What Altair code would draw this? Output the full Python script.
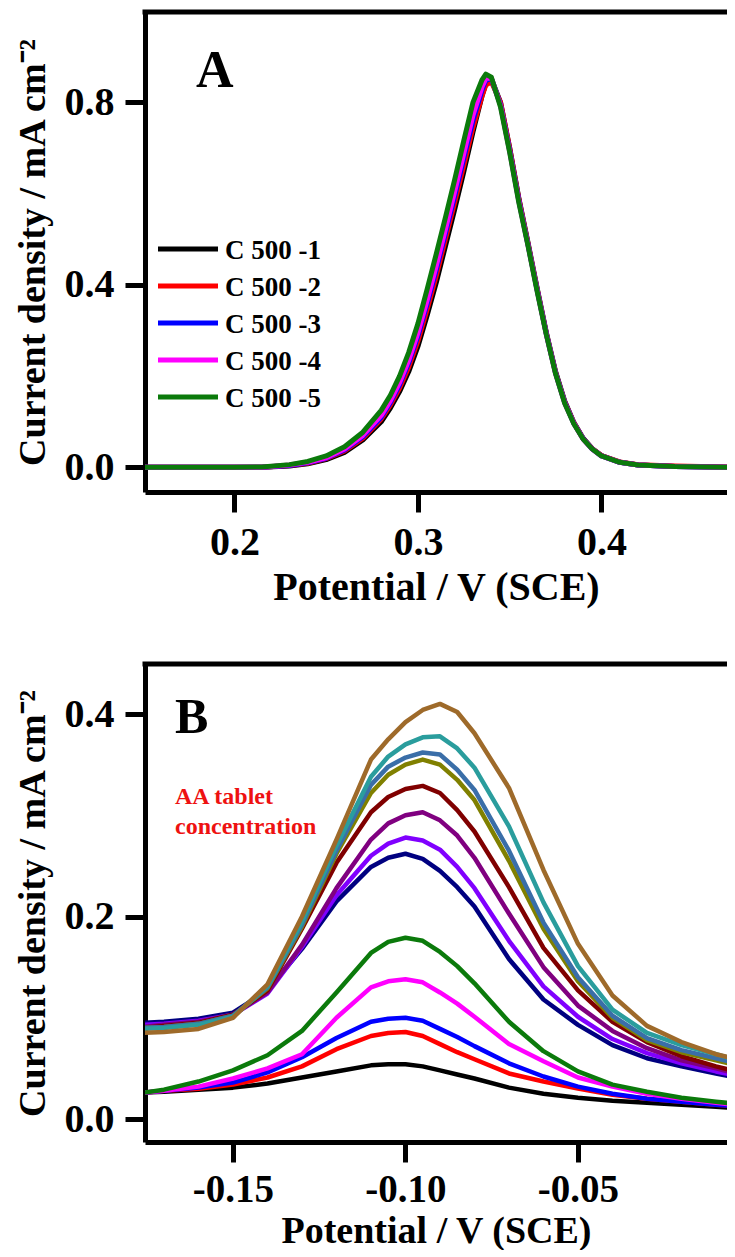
import altair as alt
import pandas as pd

FONT = "Liberation Serif"

# ---------------- Panel A data ----------------
x_A = [0.150, 0.200, 0.215, 0.230, 0.240, 0.250, 0.260, 0.270, 0.280, 0.285,
       0.290, 0.295, 0.300, 0.305, 0.310, 0.315, 0.320, 0.325, 0.330, 0.335,
       0.337, 0.340, 0.345, 0.350, 0.355, 0.360, 0.365, 0.370, 0.375, 0.380,
       0.385, 0.390, 0.395, 0.400, 0.410, 0.420, 0.440, 0.475]

names_A = ["C 500 -1", "C 500 -2", "C 500 -3", "C 500 -4", "C 500 -5"]
colors_A = ["#000000", "#ff0000", "#0000ff", "#ff00ff", "#0b7a0b"]

y_A1 = [0, 0, 0, 0.003, 0.008, 0.017, 0.033, 0.060, 0.100, 0.130,
        0.166, 0.210, 0.265, 0.333, 0.405, 0.485, 0.565, 0.648, 0.735, 0.815,
        0.840, 0.852, 0.800, 0.700, 0.590, 0.492, 0.392, 0.295, 0.210, 0.145,
        0.098, 0.064, 0.041, 0.026, 0.011, 0.005, 0.002, 0]
y_A2 = [0, 0, 0, 0.004, 0.009, 0.019, 0.036, 0.064, 0.106, 0.137,
        0.174, 0.220, 0.277, 0.346, 0.420, 0.500, 0.580, 0.662, 0.745, 0.815,
        0.838, 0.845, 0.800, 0.700, 0.588, 0.490, 0.390, 0.293, 0.208, 0.143,
        0.097, 0.063, 0.041, 0.026, 0.012, 0.006, 0.003, 0]
y_A3 = [0, 0, 0, 0.004, 0.010, 0.020, 0.038, 0.067, 0.110, 0.142,
        0.181, 0.229, 0.288, 0.358, 0.433, 0.513, 0.594, 0.677, 0.760, 0.828,
        0.848, 0.852, 0.795, 0.695, 0.585, 0.488, 0.388, 0.292, 0.207, 0.142,
        0.096, 0.063, 0.040, 0.025, 0.011, 0.005, 0.002, 0]
y_A4 = [0, 0, 0, 0.005, 0.011, 0.021, 0.040, 0.070, 0.114, 0.146,
        0.186, 0.235, 0.295, 0.366, 0.442, 0.522, 0.604, 0.688, 0.772, 0.835,
        0.852, 0.854, 0.793, 0.692, 0.583, 0.487, 0.387, 0.291, 0.206, 0.141,
        0.096, 0.062, 0.040, 0.025, 0.011, 0.005, 0.002, 0]
y_A5 = [0, 0, 0.001, 0.006, 0.013, 0.025, 0.045, 0.077, 0.125, 0.158,
        0.200, 0.252, 0.315, 0.390, 0.468, 0.548, 0.630, 0.716, 0.800, 0.850,
        0.862, 0.855, 0.790, 0.690, 0.580, 0.485, 0.385, 0.290, 0.205, 0.140,
        0.095, 0.062, 0.040, 0.025, 0.011, 0.005, 0.002, 0]

# ---------------- Panel B data ----------------
x_B = [-0.176, -0.170, -0.160, -0.150, -0.140, -0.130, -0.120, -0.110, -0.105, -0.100,
       -0.095, -0.090, -0.085, -0.080, -0.070, -0.060, -0.050, -0.040, -0.030, -0.020,
       -0.010, -0.004]

names_B = ["AA 1", "AA 2", "AA 3", "AA 4", "AA 5", "AA 6", "AA 7",
           "AA 8", "AA 9", "AA 10", "AA 11", "AA 12", "AA 13"]
colors_B = ["#000000", "#ff0000", "#0000ff", "#ff00ff", "#0b7a0b", "#000080", "#8000ff",
            "#800080", "#800000", "#808000", "#3a6ea8", "#2a9d9d", "#9e6a2a"]

y_B1 = [0.026, 0.027, 0.029, 0.031, 0.035, 0.041, 0.047, 0.053, 0.054, 0.054,
        0.052, 0.048, 0.044, 0.040, 0.031, 0.025, 0.021, 0.018, 0.016, 0.014, 0.012, 0.011]
y_B2 = [0.026, 0.028, 0.030, 0.034, 0.041, 0.052, 0.069, 0.082, 0.085, 0.086,
        0.082, 0.074, 0.066, 0.059, 0.045, 0.037, 0.030, 0.024, 0.020, 0.017, 0.014, 0.013]
y_B3 = [0.026, 0.028, 0.031, 0.036, 0.046, 0.061, 0.080, 0.096, 0.099, 0.100,
        0.097, 0.089, 0.081, 0.072, 0.055, 0.042, 0.032, 0.025, 0.020, 0.017, 0.014, 0.013]
y_B4 = [0.026, 0.028, 0.032, 0.040, 0.050, 0.064, 0.100, 0.130, 0.136, 0.138,
        0.135, 0.125, 0.114, 0.101, 0.074, 0.057, 0.041, 0.032, 0.025, 0.020, 0.016, 0.014]
y_B5 = [0.026, 0.029, 0.037, 0.048, 0.063, 0.087, 0.125, 0.164, 0.175, 0.179,
        0.176, 0.165, 0.151, 0.134, 0.096, 0.067, 0.047, 0.034, 0.027, 0.021, 0.017, 0.015]
y_B6 = [0.095, 0.096, 0.099, 0.105, 0.127, 0.168, 0.215, 0.249, 0.258, 0.262,
        0.257, 0.245, 0.229, 0.210, 0.158, 0.118, 0.093, 0.073, 0.060, 0.052, 0.045, 0.041]
y_B7 = [0.093, 0.094, 0.097, 0.103, 0.124, 0.170, 0.221, 0.260, 0.272, 0.278,
        0.275, 0.266, 0.249, 0.228, 0.176, 0.131, 0.101, 0.079, 0.065, 0.055, 0.047, 0.043]
y_B8 = [0.091, 0.093, 0.096, 0.103, 0.125, 0.172, 0.228, 0.276, 0.292, 0.300,
        0.303, 0.295, 0.280, 0.258, 0.203, 0.150, 0.112, 0.087, 0.070, 0.058, 0.050, 0.045]
y_B9 = [0.090, 0.092, 0.095, 0.103, 0.127, 0.188, 0.253, 0.303, 0.318, 0.326,
        0.329, 0.322, 0.305, 0.284, 0.229, 0.169, 0.127, 0.096, 0.076, 0.062, 0.052, 0.047]
y_B10 = [0.090, 0.091, 0.094, 0.102, 0.129, 0.190, 0.262, 0.322, 0.340, 0.350,
         0.355, 0.350, 0.335, 0.315, 0.255, 0.188, 0.136, 0.100, 0.078, 0.066, 0.058, 0.053]
y_B11 = [0.090, 0.091, 0.094, 0.102, 0.130, 0.192, 0.265, 0.330, 0.348, 0.357,
         0.362, 0.360, 0.345, 0.325, 0.265, 0.194, 0.140, 0.102, 0.080, 0.068, 0.060, 0.055]
y_B12 = [0.089, 0.090, 0.093, 0.101, 0.131, 0.195, 0.270, 0.338, 0.358, 0.370,
         0.377, 0.378, 0.366, 0.347, 0.289, 0.214, 0.151, 0.108, 0.085, 0.073, 0.064, 0.058]
y_B13 = [0.085, 0.086, 0.089, 0.100, 0.133, 0.200, 0.276, 0.355, 0.375, 0.392,
         0.404, 0.410, 0.402, 0.381, 0.327, 0.246, 0.173, 0.122, 0.092, 0.076, 0.064, 0.059]

# tick values / labels
xticks_A = [0.2, 0.3, 0.4]
yticks_A = [0.0, 0.4, 0.8]
xticks_B = [-0.15, -0.10, -0.05]
yticks_B = [0.0, 0.2, 0.4]
x_title = "Potential / V (SCE)"
y_title = "Current density / mA cm\u207b\u00b2"


def long_frame(xs, names, series):
    rows = []
    for order, (nm, ys) in enumerate(zip(names, series)):
        for x, y in zip(xs, ys):
            rows.append({"series": nm, "ord": order, "potential": x, "current": y})
    return pd.DataFrame(rows)


dfA = long_frame(x_A, names_A, [y_A1, y_A2, y_A3, y_A4, y_A5])
dfB = long_frame(x_B, names_B, [y_B1, y_B2, y_B3, y_B4, y_B5, y_B6, y_B7,
                                y_B8, y_B9, y_B10, y_B11, y_B12, y_B13])

W = 582
HA = 480
HB = 478
MINUS_FIX = "replace(datum.label, '\u2212', '-')"

colorA = alt.Scale(domain=names_A, range=colors_A)
colorB = alt.Scale(domain=names_B, range=colors_B)


def top_border(w):
    return alt.Chart(pd.DataFrame({"k": [0]})).mark_rule(
        color="black", strokeWidth=5).encode(
        x=alt.value(-2.5), x2=alt.value(w), y=alt.value(0))


# ---------- Panel A ----------
linesA = alt.Chart(dfA).mark_line(strokeWidth=5, clip=True, strokeJoin="round").encode(
    x=alt.X("potential:Q",
            scale=alt.Scale(domain=[0.1513, 0.4684], nice=False, zero=False),
            axis=alt.Axis(values=xticks_A, format=".1f", title=x_title,
                          labelPadding=10, titlePadding=5)),
    y=alt.Y("current:Q",
            scale=alt.Scale(domain=[-0.054, 0.998], nice=False, zero=False),
            axis=alt.Axis(values=yticks_A, format=".1f", title=y_title,
                          labelPadding=11, titlePadding=12)),
    color=alt.Color("series:N", scale=colorA, legend=None),
    detail="ord:O",
)

legA_df = pd.DataFrame({"series": names_A})
leg_y = alt.Y("series:N", scale=alt.Scale(type="point", domain=names_A,
                                          range=[237, 385], padding=0), axis=None)
leg_rules = alt.Chart(legA_df).mark_rule(strokeWidth=5).encode(
    x=alt.value(13), x2=alt.value(73), y=leg_y,
    color=alt.Color("series:N", scale=colorA, legend=None))
leg_text = alt.Chart(legA_df).mark_text(
    align="left", baseline="alphabetic", dy=10, font=FONT, fontWeight="bold",
    fontSize=27, color="black").encode(x=alt.value(80), y=leg_y, text="series:N")

labelA = alt.Chart(pd.DataFrame({"t": ["A"]})).mark_text(
    align="left", baseline="alphabetic", font=FONT, fontWeight="bold",
    fontSize=52, color="black").encode(x=alt.value(51), y=alt.value(75), text="t:N")

panelA = alt.layer(linesA, top_border(W), leg_rules, leg_text, labelA).resolve_scale(
    y="independent").properties(width=W, height=HA)

# ---------- Panel B ----------
linesB = alt.Chart(dfB).mark_line(strokeWidth=4.5, clip=True, strokeJoin="round").encode(
    x=alt.X("potential:Q",
            scale=alt.Scale(domain=[-0.1755, -0.0068], nice=False, zero=False),
            axis=alt.Axis(values=xticks_B, format=".2f", labelExpr=MINUS_FIX,
                          title=x_title, titleFontSize=38, labelFontSize=39,
                          tickSize=20, labelPadding=8, titlePadding=3)),
    y=alt.Y("current:Q",
            scale=alt.Scale(domain=[-0.0227, 0.4494], nice=False, zero=False),
            axis=alt.Axis(values=yticks_B, format=".1f", title=y_title,
                          labelPadding=11, titlePadding=12)),
    color=alt.Color("series:N", scale=colorB, legend=None),
    detail="ord:O",
)

labelB = alt.Chart(pd.DataFrame({"t": ["B"]})).mark_text(
    align="left", baseline="alphabetic", font=FONT, fontWeight="bold",
    fontSize=50, color="black").encode(x=alt.value(30), y=alt.value(69), text="t:N")

noteB = alt.Chart(pd.DataFrame({"k": [0]})).mark_text(
    align="left", baseline="alphabetic", font=FONT, fontWeight="bold",
    fontSize=24, color="#ee1111", lineHeight=30).encode(
    x=alt.value(30), y=alt.value(140),
    text=alt.value(["AA tablet", "concentration"]))

panelB = alt.layer(linesB, top_border(W), labelB, noteB).properties(width=W, height=HB)

chart = alt.vconcat(panelA, panelB, spacing=172, bounds="flush").resolve_scale(
    color="independent"
).properties(
    padding={"left": 6, "top": 1, "right": -3, "bottom": 0}
).configure_view(stroke=None).configure_axis(
    grid=False,
    domainColor="black", domainWidth=5,
    tickColor="black", tickWidth=5, tickSize=20,
    labelFont=FONT, labelFontWeight="bold", labelFontSize=40, labelColor="black",
    titleFont=FONT, titleFontWeight="bold", titleFontSize=40, titleColor="black",
).configure_axisLeft(titleFontSize=38)

chart.save("out.html", embed_options={"renderer": "svg", "actions": False})
